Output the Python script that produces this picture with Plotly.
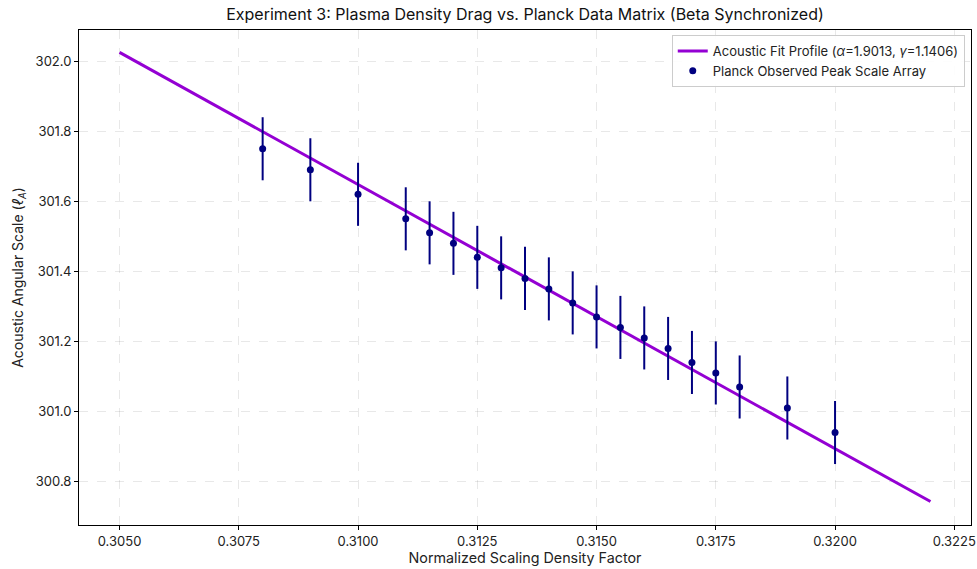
import plotly.graph_objects as go

# Data
obs_x = [0.308, 0.309, 0.310, 0.311, 0.3115, 0.312, 0.3125, 0.313, 0.3135, 0.314,
         0.3145, 0.315, 0.3155, 0.316, 0.3165, 0.317, 0.3175, 0.318, 0.319, 0.320]
obs_y = [301.75, 301.69, 301.62, 301.55, 301.51, 301.48, 301.44, 301.41, 301.38, 301.35,
         301.31, 301.27, 301.24, 301.21, 301.18, 301.14, 301.11, 301.07, 301.01, 300.94]
obs_err = [0.09] * 20

fit_x = [0.305, 0.322]
fit_y = [302.025, 300.743]

x_ticks = [0.3050, 0.3075, 0.3100, 0.3125, 0.3150, 0.3175, 0.3200, 0.3225]
y_ticks = [300.8, 301.0, 301.2, 301.4, 301.6, 301.8, 302.0]

FONT = "Inter, Roboto, sans-serif"

fig = go.Figure()
fig.add_trace(go.Scatter(
    x=fit_x, y=fit_y, mode="lines",
    line=dict(color="#9400D3", width=3),
    name="Acoustic Fit Profile (<i>α</i>=1.9013, <i>γ</i>=1.1406)",
))
fig.add_trace(go.Scatter(
    x=obs_x, y=obs_y, mode="markers",
    marker=dict(color="#000080", size=7),
    error_y=dict(type="data", array=obs_err, visible=True, color="#000080",
                 thickness=2, width=0),
    name="Planck Observed Peak Scale Array",
))

axis_common = dict(
    showline=True, linecolor="black", linewidth=1, mirror=True,
    ticks="outside", ticklen=4, tickcolor="black",
    showgrid=True, gridcolor="rgba(0,0,0,0.09)", griddash="dash", gridwidth=1,
    zeroline=False, tickfont=dict(size=13, color="#222", family=FONT),
)

fig.update_layout(
    width=977, height=569,
    margin=dict(l=79, r=6, t=30, b=44, autoexpand=False),
    paper_bgcolor="white", plot_bgcolor="white",
    font=dict(family=FONT, color="#222"),
    title=dict(text="Experiment 3: Plasma Density Drag vs. Planck Data Matrix (Beta Synchronized)",
               x=0.5, xanchor="center", xref="paper", yref="container", y=0.985, yanchor="top",
               font=dict(size=16, family=FONT, color="#111")),
    xaxis=dict(range=[0.30415, 0.32285], tickvals=x_ticks,
               ticktext=[f"{v:.4f}" for v in x_ticks],
               title=dict(text="Normalized Scaling Density Factor", font=dict(size=14.3), standoff=4),
               automargin=False,
               **axis_common),
    yaxis=dict(range=[300.676, 302.089], tickvals=y_ticks,
               ticktext=[f"{v:.1f}" for v in y_ticks],
               title=dict(text="Acoustic Angular Scale (<i>ℓ</i><sub><i>A</i></sub>)", font=dict(size=14), standoff=8),
               automargin=False,
               **axis_common),
    legend=dict(x=0.993, y=0.99, xanchor="right", yanchor="top",
                bgcolor="rgba(255,255,255,0.9)", bordercolor="#cccccc", borderwidth=1,
                font=dict(size=13, family=FONT, color="#222"),
                tracegroupgap=0),
    showlegend=True,
)

fig.write_html(
    "out.html",
    config={"displayModeBar": False},
    post_script="document.body.style.margin='0';document.body.style.overflow='hidden';",
)
